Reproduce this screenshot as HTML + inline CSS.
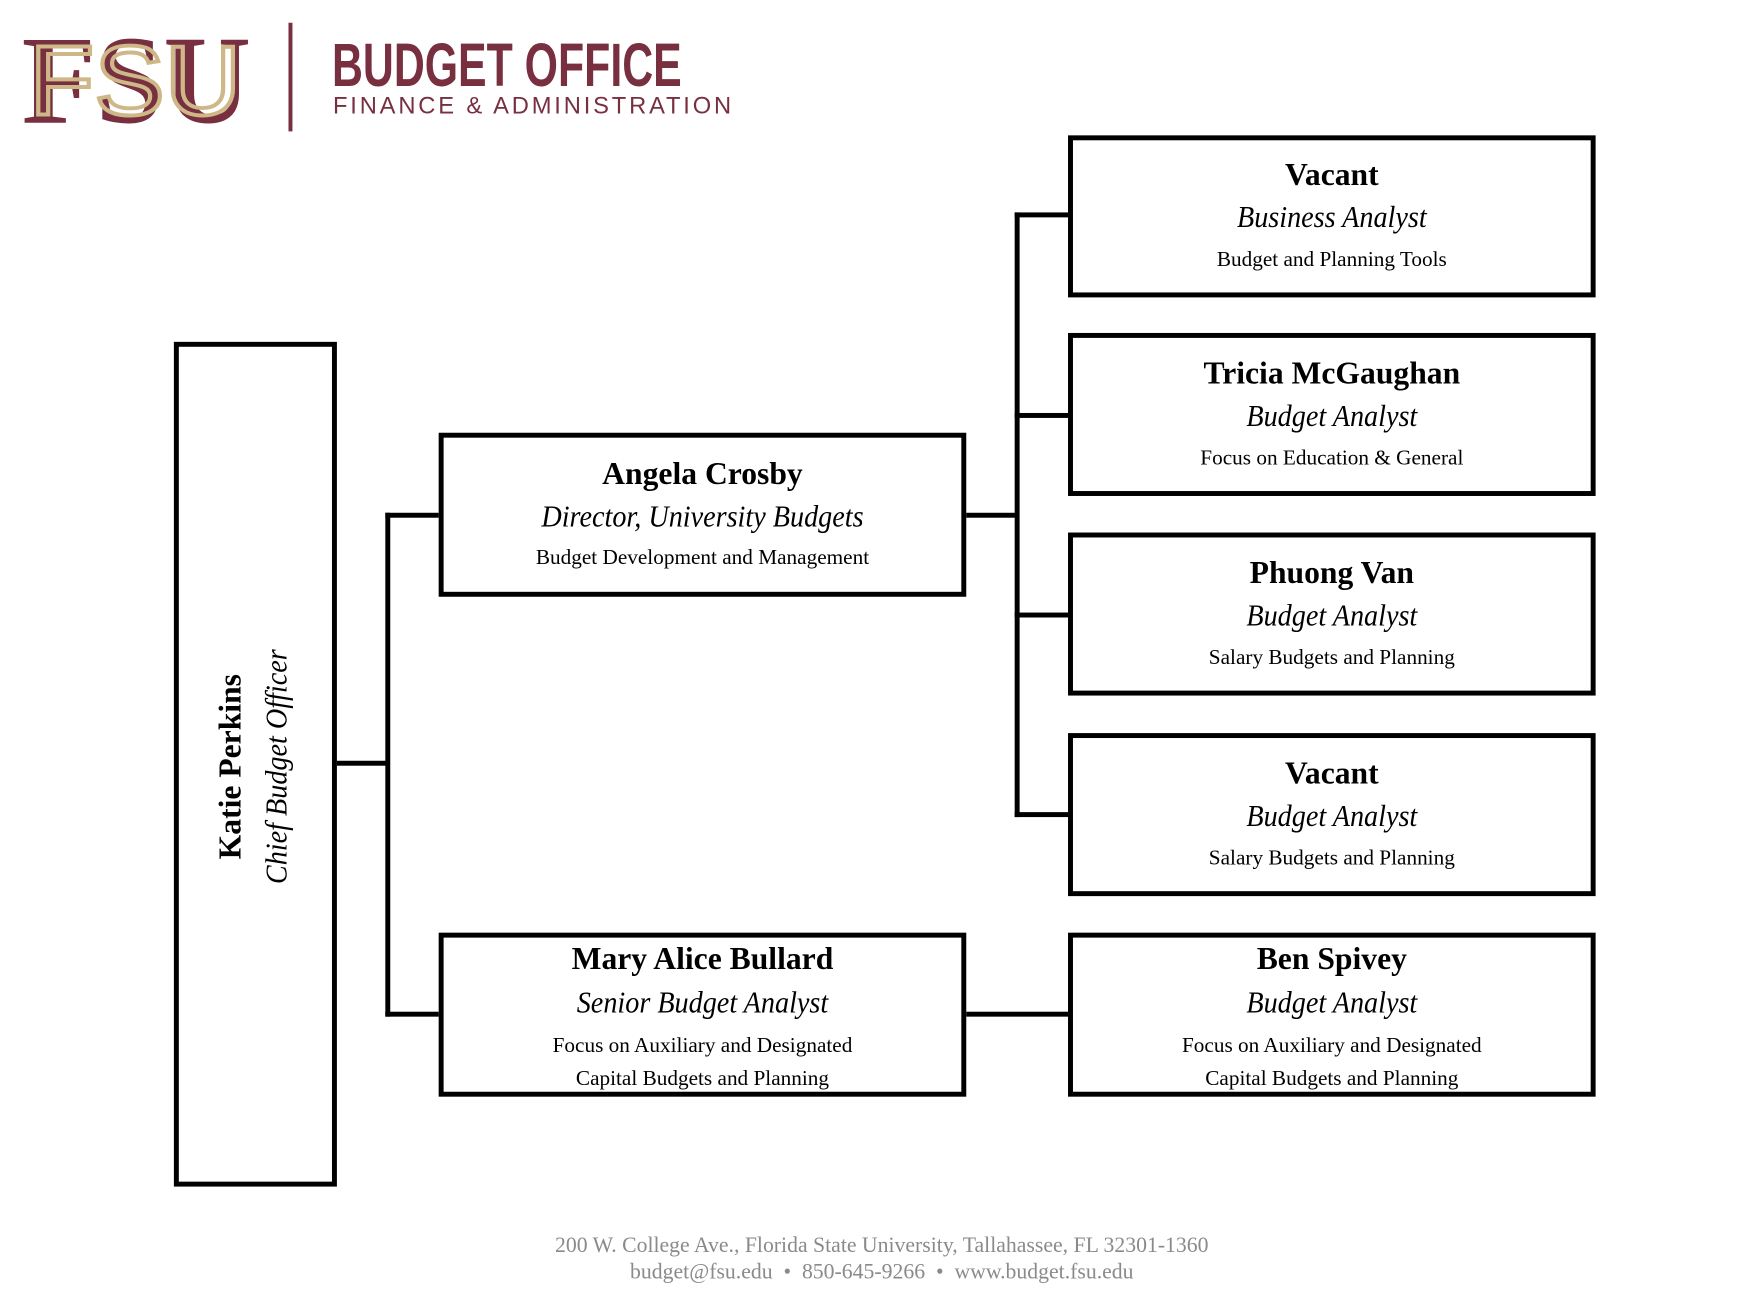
<!DOCTYPE html>
<html><head><meta charset="utf-8"><style>
*{margin:0;padding:0;box-sizing:border-box}
body{width:1763px;height:1302px;background:#fff;position:relative;overflow:hidden;font-family:"Liberation Serif",serif;color:#000}
#w{position:absolute;left:0;top:0;width:1785px;height:1318px;transform:scale(0.988);transform-origin:0 0}
.b{position:absolute;border:5px solid #000;background:#fff}
.l{position:absolute;background:#000}
.t{position:absolute;left:0;right:0;text-align:center;white-space:nowrap}
.n{font-weight:bold;font-size:32px}
.r{font-style:italic;font-size:31px;transform:scaleX(.92)}
.d{font-size:21.5px}
</style></head><body><div id="w">
<svg style="position:absolute;left:0;top:0" width="760" height="140">
<text x="22" y="124" font-family="Liberation Serif,serif" font-weight="bold" font-size="128" textLength="232" lengthAdjust="spacingAndGlyphs" fill="#782F40">FSU</text>
<text x="30" y="116" font-family="Liberation Sans,sans-serif" font-size="100" textLength="214" lengthAdjust="spacingAndGlyphs" fill="none" stroke="#CEB888" stroke-width="4">FSU</text>
<rect x="292" y="23" width="4" height="110" fill="#782F40"/>
<text x="336" y="87" font-family="Liberation Sans,sans-serif" font-weight="bold" font-size="62" textLength="354" lengthAdjust="spacingAndGlyphs" fill="#782F40">BUDGET OFFICE</text>
<text x="337" y="115" font-family="Liberation Sans,sans-serif" font-size="24" textLength="403" lengthAdjust="spacing" fill="#782F40">FINANCE &amp; ADMINISTRATION</text>
</svg>

<div class="l" style="left:339px;top:770px;width:55px;height:5px"></div>
<div class="l" style="left:390px;top:519px;width:5px;height:510px"></div>
<div class="l" style="left:390px;top:519px;width:57px;height:5px"></div>
<div class="l" style="left:390px;top:1024px;width:57px;height:5px"></div>
<div class="l" style="left:976px;top:519px;width:55px;height:5px"></div>
<div class="l" style="left:1027px;top:215px;width:5px;height:612px"></div>
<div class="l" style="left:1027px;top:215px;width:57px;height:5px"></div>
<div class="l" style="left:1027px;top:418px;width:57px;height:5px"></div>
<div class="l" style="left:1027px;top:620px;width:57px;height:5px"></div>
<div class="l" style="left:1027px;top:822px;width:57px;height:5px"></div>
<div class="l" style="left:976px;top:1024px;width:108px;height:5px"></div>

<div class="b" style="left:176px;top:346px;width:165px;height:855px">
 <div style="position:absolute;left:52px;top:425px;transform:translate(-50%,-50%) rotate(-90deg);white-space:nowrap" class="n">Katie Perkins</div>
 <div style="position:absolute;left:99px;top:425px;transform:translate(-50%,-50%) rotate(-90deg) scaleX(.92);white-space:nowrap;font-style:italic;font-size:31px">Chief Budget Officer</div>
</div>

<div class="b" style="left:444px;top:438px;width:534px;height:166px">
 <div class="t n" style="top:18px">Angela Crosby</div>
 <div class="t r" style="top:62px">Director, University Budgets</div>
 <div class="t d" style="top:109px">Budget Development and Management</div>
</div>
<div class="b" style="left:444px;top:944px;width:534px;height:166px">
 <div class="t n" style="top:3px">Mary Alice Bullard</div>
 <div class="t r" style="top:48px">Senior Budget Analyst</div>
 <div class="t d" style="top:97px">Focus on Auxiliary and Designated</div>
 <div class="t d" style="top:130px">Capital Budgets and Planning</div>
</div>

<div class="b" style="left:1081px;top:137px;width:534px;height:164px">
 <div class="t n" style="top:16px">Vacant</div>
 <div class="t r" style="top:60px">Business Analyst</div>
 <div class="t d" style="top:108px">Budget and Planning Tools</div>
</div>
<div class="b" style="left:1081px;top:337px;width:534px;height:165px">
 <div class="t n" style="top:17px">Tricia McGaughan</div>
 <div class="t r" style="top:61px">Budget Analyst</div>
 <div class="t d" style="top:109px">Focus on Education &amp; General</div>
</div>
<div class="b" style="left:1081px;top:539px;width:534px;height:165px">
 <div class="t n" style="top:17px">Phuong Van</div>
 <div class="t r" style="top:61px">Budget Analyst</div>
 <div class="t d" style="top:109px">Salary Budgets and Planning</div>
</div>
<div class="b" style="left:1081px;top:742px;width:534px;height:165px">
 <div class="t n" style="top:17px">Vacant</div>
 <div class="t r" style="top:61px">Budget Analyst</div>
 <div class="t d" style="top:109px">Salary Budgets and Planning</div>
</div>
<div class="b" style="left:1081px;top:944px;width:534px;height:166px">
 <div class="t n" style="top:3px">Ben Spivey</div>
 <div class="t r" style="top:48px">Budget Analyst</div>
 <div class="t d" style="top:97px">Focus on Auxiliary and Designated</div>
 <div class="t d" style="top:130px">Capital Budgets and Planning</div>
</div>

<div style="position:absolute;left:0;width:1785px;top:1246px;text-align:center;color:#8a8a8a;font-size:22px;line-height:27px">200 W. College Ave., Florida State University, Tallahassee, FL 32301-1360<br>budget@fsu.edu &nbsp;•&nbsp; 850-645-9266 &nbsp;•&nbsp; www.budget.fsu.edu</div>
</div></body></html>
